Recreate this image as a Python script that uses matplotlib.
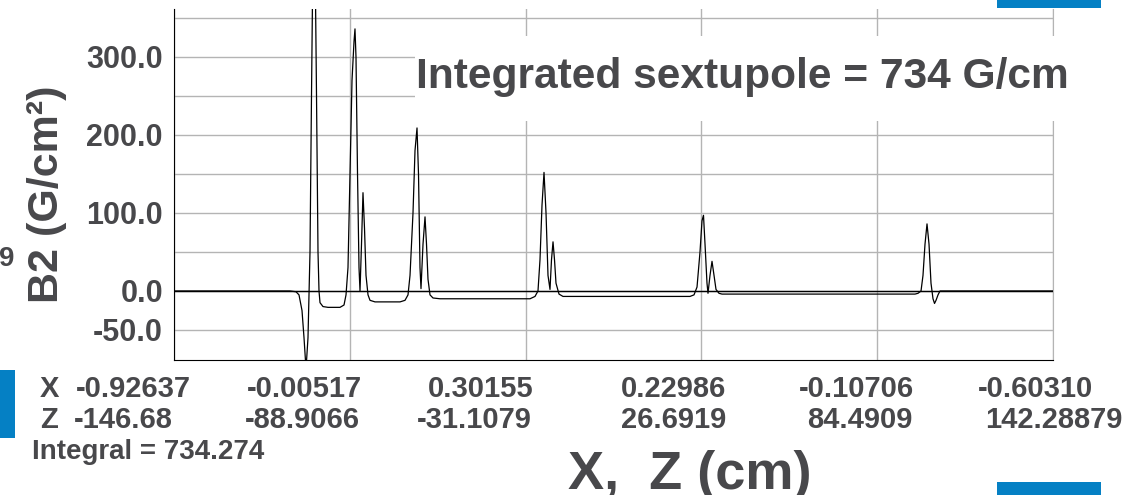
import matplotlib.pyplot as plt
from matplotlib.patches import Rectangle

plt.rcParams['font.family'] = ['Liberation Sans', 'DejaVu Sans']
plt.rcParams['font.weight'] = 'bold'

# B2 sextupole field along the beam axis (Z in cm, B2 in G/cm^2)
z_cm = [-146.68, -108.55, -106.57, -105.59, -104.60, -103.94, -103.28, -102.63,
        -101.97, -101.48, -100.98, -100.33, -99.83, -99.34, -99.01, -98.68,
        -97.70, -96.05, -92.11, -90.79, -90.13, -89.48, -88.82, -88.16, -87.50,
        -87.18, -86.85, -86.35, -85.86, -85.53, -85.04, -84.55, -84.05, -83.56,
        -82.90, -82.24, -80.60, -72.38, -70.74, -69.75, -69.09, -68.11, -67.45,
        -66.79, -66.30, -65.81, -65.48, -64.82, -64.16, -63.67, -63.18, -62.52,
        -61.53, -59.23, -29.64, -28.00, -27.02, -26.36, -25.70, -25.04, -24.38,
        -23.73, -23.07, -22.58, -22.08, -21.59, -21.10, -20.11, -18.80, 22.96,
        24.27, 25.26, 26.24, 26.90, 27.39, 27.89, 28.54, 28.87, 29.53, 30.19,
        30.85, 31.50, 32.49, 33.48, 96.92, 97.91, 98.90, 99.55, 100.21, 100.87,
        101.53, 102.18, 102.84, 103.34, 103.83, 104.49, 105.14, 142.29]
b2 = [0, 0, -1, -5, -25, -60, -100, -60,
      50, 250, 440, 440, 250, 50, 0, -15,
      -20, -21, -21, -18, -5, 30, 150, 270, 320,
      336, 300, 150, 30, 0, 60, 126, 80, 20,
      -5, -12, -14, -14, -12, -5, 20, 100, 180,
      209, 150, 30, 3, 60, 95, 60, 15, -5,
      -9, -10, -10, -7, 0, 40, 110, 152, 100,
      20, 2, 40, 63, 40, 10, -4, -7, -7,
      -5, 5, 50, 90, 97, 60, 10, -3, 20, 38,
      20, 2, -3, -4, -4, -3, 0, 20, 60, 86,
      60, 10, -10, -16, -12, -5, 0, 0]

z_grid = [-146.68, -88.9066, -31.1079, 26.6919, 84.4909, 142.28879]
x_row = ['-0.92637', '-0.00517', '0.30155', '0.22986', '-0.10706', '-0.60310']
z_row = ['-146.68', '-88.9066', '-31.1079', '26.6919', '84.4909', '142.28879']
y_grid = [-50, 0, 50, 100, 150, 200, 250, 300, 350]
y_shown = [-50, 0, 100, 200, 300]
integral = 734.274
sextupole = 734

W, H = 1134, 495
GREY_TXT = '#48484b'
BLUE = '#0580c4'


def fx(px):
    return px / W


def fy(py):
    return 1 - py / H


fig = plt.figure(figsize=(W / 100, H / 100), dpi=100)
ax = fig.add_axes([fx(174), fy(360), (1053 - 174) / W, (360 - 9) / H])

ax.plot(z_cm, b2, color='black', lw=0.9, zorder=3)
ax.axhline(0, color='black', lw=1.0, zorder=2)

ax.set_xlim(z_grid[0], z_grid[-1])
ax.set_ylim(-88.5, 361.5)
ax.set_xticks(z_grid)
ax.set_xticklabels([])
ax.set_yticks(y_grid)
ax.set_yticklabels([f'{v:.1f}' if v in y_shown else '' for v in y_grid],
                   fontsize=22, fontweight='bold', color=GREY_TXT)
ax.tick_params(length=0, pad=8)
ax.grid(True, color='#b4b4b4', lw=1.0)
ax.set_axisbelow(True)
ax.spines['top'].set_visible(False)
ax.spines['right'].set_color('#b4b4b4')
ax.spines['left'].set_color('black')
ax.spines['bottom'].set_color('black')

fig.text(fx(47), fy(194), 'B2 (G/cm²)', rotation=90, ha='center', va='center',
         fontsize=31, fontweight='bold', color=GREY_TXT)
fig.text(fx(14), fy(259), '9', ha='right', va='center',
         fontsize=20, fontweight='bold', color=GREY_TXT)

# white panel behind the result annotation
fig.add_artist(Rectangle((fx(415), fy(121)), (1075 - 415) / W, (121 - 36) / H,
                         transform=fig.transFigure, facecolor='white',
                         edgecolor='none', zorder=5))
fig.text(fx(416), fy(77), f'Integrated sextupole = {sextupole} G/cm', ha='left',
         va='center', fontsize=30.6, fontweight='bold', color=GREY_TXT, zorder=6)

# X / Z coordinates under each vertical grid line
x_left = [76, 247, 428, 621, 799, 978]
z_left = [74, 245, 417, 621, 807, 985]
fig.text(fx(40), fy(389), 'X', ha='left', va='center', fontsize=21,
         fontweight='bold', color=GREY_TXT)
fig.text(fx(40), fy(420), 'Z', ha='left', va='center', fontsize=21,
         fontweight='bold', color=GREY_TXT)
for px, lab in zip(x_left, x_row):
    fig.text(fx(px), fy(389), lab, ha='left', va='center', fontsize=21,
             fontweight='bold', color=GREY_TXT)
for px, lab in zip(z_left, z_row):
    fig.text(fx(px), fy(420), lab, ha='left', va='center', fontsize=21,
             fontweight='bold', color=GREY_TXT)

fig.text(fx(32), fy(452), f'Integral = {integral}', ha='left', va='center',
         fontsize=20, fontweight='bold', color=GREY_TXT)
fig.text(fx(568), fy(489), 'X,  Z (cm)', ha='left', va='baseline',
         fontsize=39, fontweight='bold', color=GREY_TXT)

# blue slide decorations
for x0, y0, x1, y1 in [(997, 0, 1101, 8), (0, 370, 15, 438), (997, 482, 1101, 495)]:
    fig.add_artist(Rectangle((fx(x0), fy(y1)), (x1 - x0) / W, (y1 - y0) / H,
                             transform=fig.transFigure, facecolor=BLUE,
                             edgecolor='none', zorder=5))

fig.savefig('out.png', dpi=100)
